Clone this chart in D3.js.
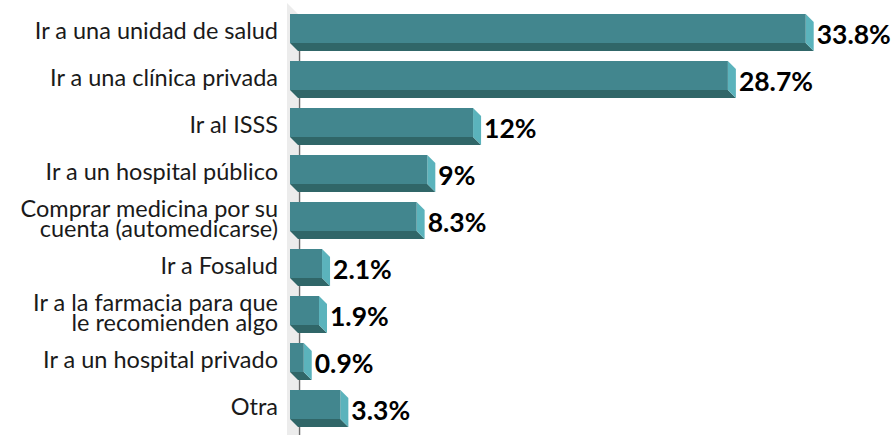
<!DOCTYPE html>
<html>
<head>
<meta charset="utf-8">
<script src="https://cdn.jsdelivr.net/npm/d3@7"></script>
<style>
  body { margin: 0; background: #fff; }
  svg { display: block; font-family: Lato, sans-serif; }
</style>
</head>
<body>
<svg></svg>
<script>
const categories = [
  ['Ir a una unidad de salud'],
  ['Ir a una clínica privada'],
  ['Ir al ISSS'],
  ['Ir a un hospital público'],
  ['Comprar medicina por su', 'cuenta (automedicarse)'],
  ['Ir a Fosalud'],
  ['Ir a la farmacia para que', 'le recomienden algo'],
  ['Ir a un hospital privado'],
  ['Otra']
];
const values = [33.8, 28.7, 12, 9, 8.3, 2.1, 1.9, 0.9, 3.3];

const [svgWidth, svgHeight] = [895, 435];
const svg = d3.select('svg')
  .attr('width', svgWidth)
  .attr('height', svgHeight);

const x0 = 290;
const depth = 8;

const data = values.map((v, i) => ({ key: i, lines: categories[i], val: v }));

const xScale = d3.scaleLinear()
  .domain([0, 35])
  .range([x0, x0 + 534]);
const yScale = d3.scaleBand()
  .domain(data.map(d => d.key))
  .range([9, 432])
  .paddingInner(10 / 47)
  .paddingOuter(5 / 47);
const faceH = yScale.bandwidth() - depth;

// side wall + axis
svg.append('path')
  .attr('d', `M${x0 - 3},3 L${x0 + depth},${3 + depth + 3} L${x0 + depth},${svgHeight} L${x0 - 3},${svgHeight} Z`)
  .attr('fill', '#ececec');
svg.append('line')
  .attr('x1', x0 + depth + 1.5).attr('x2', x0 + depth + 1.5)
  .attr('y1', yScale(0) + depth).attr('y2', svgHeight)
  .attr('stroke', '#6b6b6b')
  .attr('stroke-width', 1.5);

const bar = svg.selectAll('g.bar')
  .data(data)
  .enter()
  .append('g')
  .classed('bar', true)
  .attr('transform', d => `translate(0, ${yScale(d.key)})`);

// bottom face
bar.append('path')
  .attr('fill', '#306668')
  .attr('d', d => {
    const xe = xScale(d.val);
    return `M${x0},${faceH} L${xe},${faceH} L${xe + depth},${faceH + depth} L${x0 + depth},${faceH + depth} Z`;
  });
// right face
bar.append('path')
  .attr('fill', '#5bb3bc')
  .attr('d', d => {
    const xe = xScale(d.val);
    return `M${xe},0 L${xe + depth},${depth} L${xe + depth},${faceH + depth} L${xe},${faceH} Z`;
  });
// front face
bar.append('rect')
  .attr('x', x0)
  .attr('y', 0)
  .attr('width', d => xScale(d.val) - x0)
  .attr('height', faceH)
  .attr('fill', '#42868e');

// value labels
bar.append('text')
  .attr('x', d => xScale(d.val) + depth + 3)
  .attr('y', 29.5)
  .attr('font-size', 26.5)
  .attr('font-weight', 'bold')
  .attr('fill', '#000')
  .text(d => d.val + '%');

// category labels
const lineH = 20;
bar.append('text')
  .attr('text-anchor', 'end')
  .attr('font-size', 23.5)
  .attr('fill', '#1a1a1a')
  .selectAll('tspan')
  .data(d => d.lines.map((l, i) => ({ l, i, n: d.lines.length })))
  .enter()
  .append('tspan')
  .attr('x', 278)
  .attr('y', t => 24.5 + (t.i - (t.n - 1) / 2) * lineH)
  .text(t => t.l);
</script>
</body>
</html>
